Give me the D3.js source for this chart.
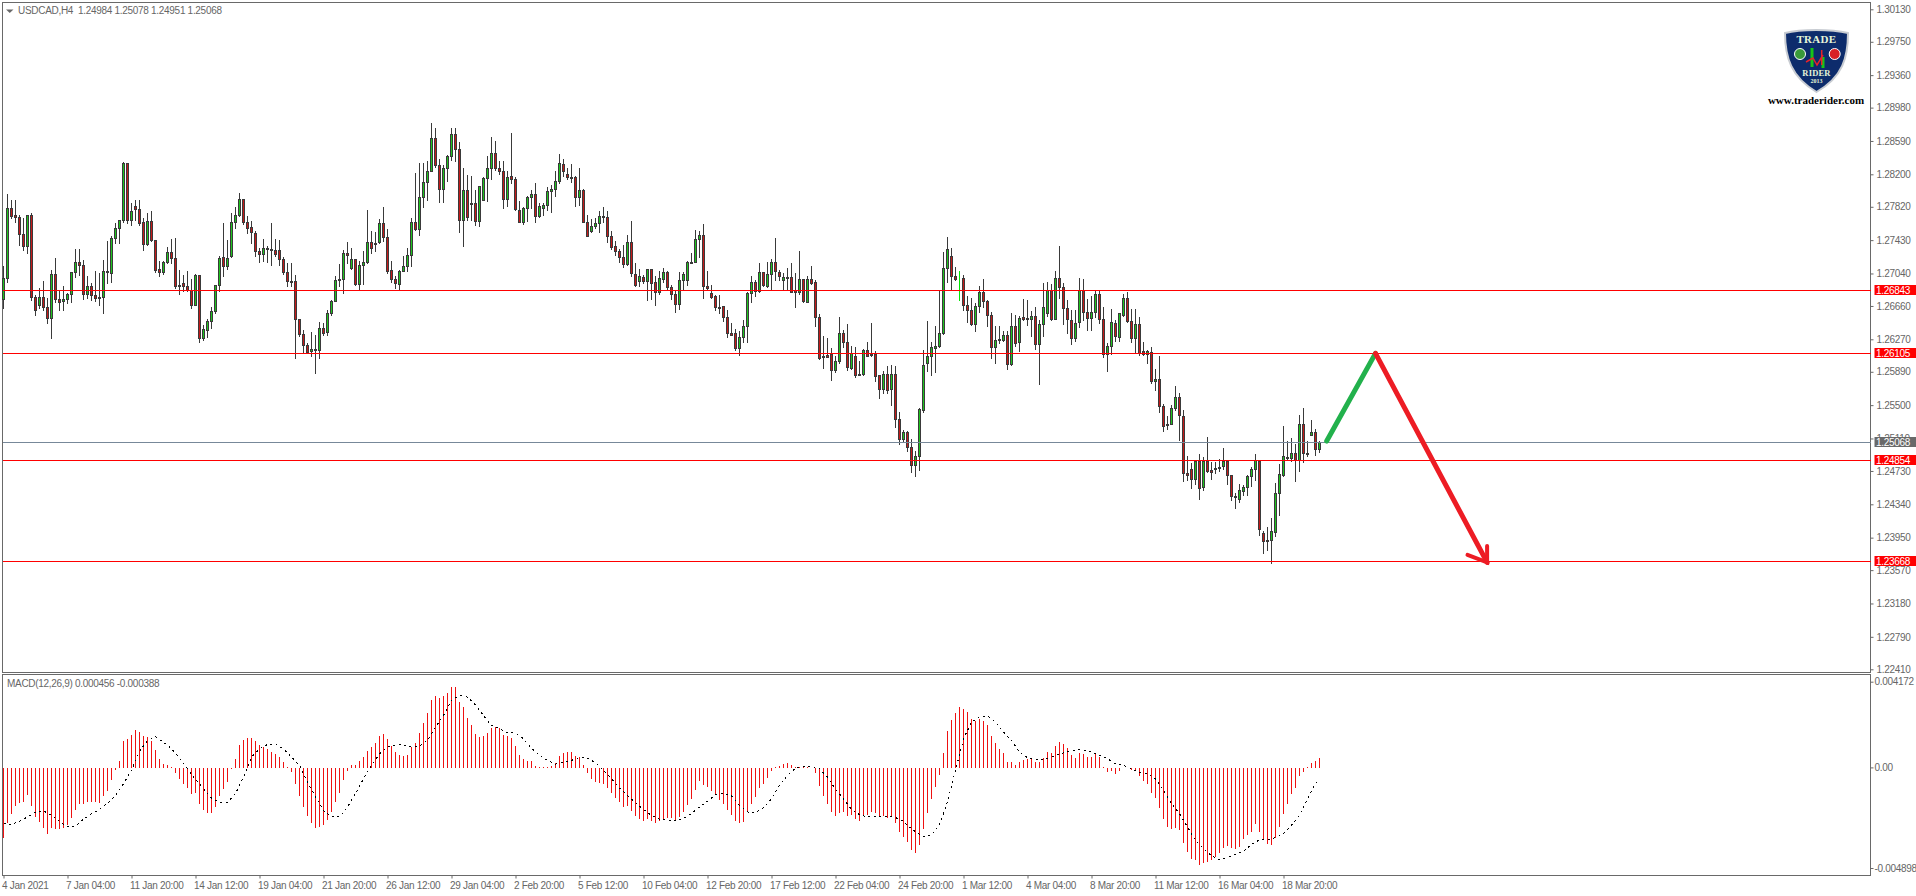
<!DOCTYPE html>
<html>
<head>
<meta charset="utf-8">
<title>USDCAD,H4</title>
<script src="https://cdn.jsdelivr.net/npm/d3@7"></script>
<style>
  html, body { margin: 0; padding: 0; background: #fff; overflow: hidden; }
  text { font-family: "Liberation Sans", sans-serif; font-size: 10px; letter-spacing: -0.3px; fill: #666; }
</style>
</head>
<body>
<div id="chart"></div>
<script>
// USDCAD H4 candles
var opens = [
1.26737,1.26982,1.27801,1.27720,1.27696,1.27497,1.27353,1.27720,1.26760,1.26663,
1.26760,1.26643,1.26511,1.27029,1.26737,1.26709,1.26737,1.26795,1.27053,1.27170,
1.27135,1.26791,1.26889,1.26784,1.26760,1.26760,1.27068,1.27037,1.27450,1.27567,
1.27661,1.28328,1.27661,1.27825,1.27790,1.27638,1.27376,1.27649,1.27427,1.27088,
1.27049,1.27170,1.27287,1.27216,1.26904,1.26924,1.26889,1.26842,1.26663,1.27018,
1.26277,1.26374,1.26479,1.26596,1.26901,1.27228,1.27119,1.27244,1.27638,1.27720,
1.27907,1.27638,1.27575,1.27509,1.27298,1.27259,1.27333,1.27322,1.27310,1.27310,
1.27205,1.27053,1.26951,1.26943,1.26503,1.26327,1.26199,1.26124,1.26156,1.26136,
1.26397,1.26347,1.26573,1.26709,1.26971,1.26971,1.27275,1.27096,1.27205,1.26912,
1.27135,1.27170,1.27404,1.27396,1.27404,1.27626,1.27462,1.27076,1.26971,1.26908,
1.27064,1.27123,1.27252,1.27638,1.27556,1.27930,1.28106,1.28234,1.28620,1.28301,
1.28020,1.28269,1.28406,1.28663,1.28492,1.27657,1.28008,1.27860,1.27860,1.27645,
1.27891,1.28152,1.28266,1.28445,1.28269,1.28234,1.27903,1.28176,1.28141,1.27778,
1.27634,1.27801,1.27930,1.27965,1.27704,1.27801,1.27833,1.28000,1.28024,1.28117,
1.28316,1.28199,1.28168,1.28164,1.27926,1.28012,1.27638,1.27528,1.27587,1.27622,
1.27708,1.27696,1.27474,1.27357,1.27302,1.27228,1.27150,1.27404,1.27029,1.26943,
1.26994,1.26943,1.27088,1.26936,1.26815,1.26967,1.27053,1.26873,1.26791,1.26674,
1.26959,1.26959,1.27174,1.27170,1.27439,1.27486,1.26889,1.26807,1.26772,1.26647,
1.26655,1.26526,1.26339,1.26339,1.26160,1.26288,1.26417,1.26803,1.26936,1.26834,
1.27053,1.26893,1.27029,1.27170,1.27053,1.26955,1.26998,1.26994,1.26838,1.26815,
1.26971,1.26706,1.26971,1.26936,1.26526,1.26070,1.26078,1.26097,1.25902,1.26007,
1.26339,1.26234,1.25933,1.26070,1.25863,1.25863,1.26136,1.26093,1.26089,1.25848,
1.25680,1.25855,1.25684,1.25855,1.25333,1.25103,1.25181,1.25001,1.24791,1.24896,
1.25434,1.25984,1.26070,1.26160,1.26183,1.26335,1.27096,1.27240,1.27002,1.26983,
1.26982,1.26667,1.26608,1.26444,1.26651,1.26819,1.26713,1.26550,1.26171,1.26273,
1.26261,1.26316,1.25976,1.26421,1.26234,1.26526,1.26514,1.26503,1.26538,1.26210,
1.26444,1.26573,1.26838,1.26507,1.26982,1.26873,1.26631,1.26491,1.26277,1.26468,
1.26838,1.26581,1.26511,1.26581,1.26795,1.26503,1.26093,1.26187,1.26456,1.26292,
1.26553,1.26748,1.26479,1.26277,1.26444,1.26128,1.26097,1.26113,1.25773,1.25801,
1.25485,1.25274,1.25274,1.25461,1.25590,1.25368,1.24701,1.24748,1.24627,1.24845,
1.24533,1.24845,1.24736,1.24763,1.24756,1.24779,1.24841,1.24678,1.24416,1.24397,
1.24494,1.24533,1.24662,1.24744,1.24845,1.23999,1.23917,1.23917,1.24011,1.24467,
1.24681,1.24873,1.24873,1.24935,1.24853,1.25274,1.24939,1.25146,1.25181,1.24984
];
var highs = [
1.27127,1.27969,1.27899,1.27899,1.27723,1.27684,1.27720,1.27743,1.26787,1.26865,
1.26951,1.26748,1.27076,1.27220,1.26846,1.26885,1.26807,1.27053,1.27326,1.27326,
1.27197,1.27010,1.26924,1.27068,1.27041,1.27197,1.27419,1.27470,1.27626,1.27665,
1.28340,1.28328,1.27860,1.27895,1.27895,1.27684,1.27743,1.27770,1.27431,1.27177,
1.27177,1.27341,1.27443,1.27454,1.27072,1.27021,1.27060,1.26971,1.27029,1.27021,
1.26436,1.26507,1.26643,1.26901,1.27244,1.27626,1.27431,1.27743,1.27813,1.27977,
1.27907,1.27704,1.27649,1.27528,1.27333,1.27443,1.27353,1.27626,1.27439,1.27431,
1.27224,1.27158,1.27158,1.27018,1.26503,1.26370,1.26222,1.26355,1.26316,1.26472,
1.26456,1.26604,1.26729,1.27002,1.27146,1.27314,1.27400,1.27333,1.27205,1.27177,
1.27294,1.27782,1.27536,1.27517,1.27677,1.27813,1.27556,1.27177,1.27002,1.27080,
1.27236,1.27337,1.27684,1.28215,1.28328,1.28328,1.28347,1.28800,1.28737,1.28375,
1.28301,1.28425,1.28730,1.28730,1.28570,1.28269,1.28188,1.28172,1.28016,1.28055,
1.28164,1.28414,1.28636,1.28578,1.28344,1.28344,1.28227,1.28683,1.28164,1.27876,
1.27813,1.27938,1.28016,1.28094,1.27860,1.27860,1.28047,1.28074,1.28234,1.28437,
1.28375,1.28269,1.28320,1.28172,1.28269,1.28024,1.27723,1.27673,1.27681,1.27762,
1.27817,1.27770,1.27536,1.27411,1.27318,1.27369,1.27489,1.27653,1.27158,1.27092,
1.27021,1.27088,1.27088,1.27002,1.27060,1.27099,1.27068,1.26904,1.26846,1.27053,
1.27049,1.27181,1.27275,1.27548,1.27528,1.27614,1.27068,1.26901,1.26787,1.26780,
1.26659,1.26604,1.26456,1.26386,1.26358,1.26495,1.26819,1.27010,1.26963,1.27158,
1.27053,1.27170,1.27209,1.27454,1.27080,1.27041,1.27099,1.27158,1.27041,1.27302,
1.26971,1.27010,1.27127,1.26959,1.26561,1.26308,1.26284,1.26167,1.26066,1.26530,
1.26378,1.26448,1.26191,1.26179,1.26007,1.26152,1.26238,1.26460,1.26128,1.25848,
1.25898,1.25949,1.25965,1.25949,1.25411,1.25208,1.25196,1.25099,1.24954,1.25465,
1.26136,1.26483,1.26234,1.26425,1.26838,1.27287,1.27466,1.27337,1.27115,1.27068,
1.27021,1.26776,1.26748,1.26690,1.26885,1.26971,1.26729,1.26581,1.26425,1.26425,
1.26362,1.26358,1.26573,1.26553,1.26534,1.26737,1.26729,1.26600,1.26643,1.26487,
1.26924,1.26940,1.26916,1.27060,1.27361,1.26924,1.26729,1.26612,1.26612,1.26982,
1.26975,1.26741,1.26776,1.26838,1.26838,1.26643,1.26222,1.26620,1.26495,1.26573,
1.26791,1.26823,1.26620,1.26620,1.26526,1.26230,1.26136,1.26179,1.25922,1.26074,
1.25512,1.25364,1.25497,1.25723,1.25641,1.25438,1.24904,1.24822,1.24845,1.24927,
1.24888,1.25126,1.24834,1.24830,1.24869,1.24993,1.24849,1.24681,1.24467,1.24576,
1.24561,1.24681,1.24771,1.24927,1.24849,1.24026,1.24073,1.24174,1.24584,1.24810,
1.25255,1.25071,1.25110,1.25044,1.25383,1.25465,1.25079,1.25321,1.25216,1.25078
];
var lows = [
1.26631,1.26932,1.27681,1.27634,1.27372,1.27306,1.27275,1.26721,1.26546,1.26628,
1.26612,1.26452,1.26277,1.26698,1.26604,1.26604,1.26690,1.26698,1.26994,1.27018,
1.26741,1.26745,1.26729,1.26709,1.26667,1.26569,1.26924,1.26932,1.27392,1.27392,
1.27638,1.27626,1.27606,1.27665,1.27599,1.27306,1.27372,1.27411,1.27057,1.27010,
1.27025,1.27158,1.27158,1.26865,1.26791,1.26826,1.26826,1.26635,1.26663,1.26230,
1.26253,1.26292,1.26397,1.26573,1.26826,1.27010,1.27088,1.27228,1.27564,1.27704,
1.27618,1.27509,1.27392,1.27236,1.27166,1.27177,1.27174,1.27131,1.27244,1.27138,
1.27033,1.26885,1.26885,1.26043,1.26300,1.26113,1.26105,1.26074,1.25871,1.26043,
1.26319,1.26316,1.26553,1.26709,1.26885,1.26807,1.27158,1.27088,1.26904,1.26846,
1.26916,1.27158,1.27275,1.27294,1.27392,1.27411,1.27041,1.26932,1.26865,1.26846,
1.27060,1.27060,1.27119,1.27548,1.27482,1.27809,1.27899,1.28230,1.28277,1.27868,
1.27872,1.28113,1.28367,1.28347,1.27517,1.27353,1.27665,1.27657,1.27606,1.27595,
1.27891,1.27879,1.28145,1.28250,1.28203,1.27798,1.27829,1.28094,1.27774,1.27634,
1.27610,1.27645,1.27805,1.27634,1.27692,1.27723,1.27774,1.27751,1.27938,1.28094,
1.28172,1.28141,1.28102,1.27829,1.27840,1.27634,1.27470,1.27517,1.27571,1.27525,
1.27634,1.27400,1.27326,1.27255,1.27170,1.27107,1.27138,1.27002,1.26885,1.26893,
1.26924,1.26729,1.26737,1.26663,1.26799,1.26932,1.26858,1.26741,1.26581,1.26624,
1.26854,1.26904,1.27162,1.27166,1.27224,1.26745,1.26838,1.26752,1.26604,1.26573,
1.26475,1.26288,1.26316,1.26144,1.26078,1.26230,1.26230,1.26698,1.26768,1.26823,
1.26885,1.26877,1.26858,1.26963,1.26963,1.26846,1.26858,1.26815,1.26639,1.26799,
1.26698,1.26698,1.26916,1.26417,1.26035,1.25929,1.26054,1.25785,1.25887,1.25984,
1.26171,1.25910,1.25918,1.25824,1.25848,1.25851,1.26066,1.26074,1.25773,1.25575,
1.25637,1.25637,1.25493,1.25239,1.25040,1.25079,1.24954,1.24713,1.24662,1.24732,
1.25419,1.25890,1.25851,1.25887,1.26171,1.26323,1.26932,1.26846,1.26963,1.26729,
1.26612,1.26464,1.26433,1.26358,1.26581,1.26643,1.26417,1.26043,1.25984,1.26222,
1.26241,1.25914,1.25968,1.26191,1.26124,1.26487,1.26436,1.26300,1.26152,1.25738,
1.26308,1.26534,1.26495,1.26503,1.26745,1.26440,1.26339,1.26206,1.26241,1.26405,
1.26487,1.26370,1.26378,1.26526,1.26456,1.26054,1.25890,1.26093,1.26249,1.26241,
1.26542,1.26464,1.26234,1.26105,1.26085,1.26085,1.25984,1.25754,1.25676,1.25411,
1.25188,1.25216,1.25270,1.25442,1.25083,1.24603,1.24623,1.24529,1.24576,1.24393,
1.24506,1.24717,1.24631,1.24701,1.24720,1.24752,1.24576,1.24381,1.24288,1.24358,
1.24447,1.24447,1.24545,1.24623,1.23979,1.23761,1.23804,1.23648,1.23968,1.24206,
1.24670,1.24849,1.24837,1.24603,1.24728,1.24830,1.24896,1.25142,1.24908,1.24951
];
var closes = [
1.26982,1.27801,1.27704,1.27692,1.27497,1.27353,1.27720,1.26760,1.26604,1.26760,
1.26639,1.26511,1.27029,1.26733,1.26702,1.26737,1.26795,1.27053,1.27170,1.27135,
1.26791,1.26889,1.26784,1.26745,1.26745,1.27064,1.27060,1.27450,1.27567,1.27661,
1.28328,1.27661,1.27766,1.27790,1.27622,1.27376,1.27649,1.27427,1.27072,1.27049,
1.27170,1.27287,1.27213,1.26893,1.26897,1.26885,1.26842,1.26663,1.27018,1.26277,
1.26386,1.26479,1.26596,1.26901,1.27216,1.27119,1.27216,1.27638,1.27720,1.27907,
1.27638,1.27564,1.27525,1.27294,1.27259,1.27333,1.27318,1.27306,1.27267,1.27205,
1.27049,1.26943,1.26943,1.26503,1.26323,1.26199,1.26121,1.26152,1.26136,1.26397,
1.26339,1.26573,1.26717,1.26963,1.26955,1.27275,1.27252,1.27205,1.26912,1.27135,
1.27170,1.27404,1.27333,1.27388,1.27626,1.27462,1.27068,1.26971,1.26920,1.27064,
1.27123,1.27252,1.27638,1.27560,1.27930,1.28106,1.28230,1.28620,1.28301,1.28020,
1.28269,1.28414,1.28663,1.28492,1.27657,1.28008,1.27696,1.27844,1.27645,1.28055,
1.28152,1.28269,1.28445,1.28262,1.28230,1.27903,1.28164,1.28137,1.27786,1.27634,
1.27801,1.27930,1.27965,1.27704,1.27825,1.27837,1.28000,1.28024,1.28117,1.28328,
1.28234,1.28160,1.28160,1.27930,1.28012,1.27634,1.27470,1.27591,1.27626,1.27708,
1.27696,1.27470,1.27341,1.27294,1.27224,1.27150,1.27404,1.27037,1.26897,1.27002,
1.26943,1.27088,1.26920,1.26819,1.26982,1.27053,1.26873,1.26791,1.26674,1.26959,
1.27029,1.27170,1.27166,1.27439,1.27486,1.26885,1.26869,1.26764,1.26639,1.26639,
1.26522,1.26335,1.26319,1.26160,1.26292,1.26421,1.26807,1.26936,1.26834,1.27053,
1.26897,1.27029,1.27170,1.27060,1.27002,1.26998,1.26990,1.26823,1.26815,1.26971,
1.26717,1.26971,1.26928,1.26522,1.26050,1.26058,1.26062,1.25902,1.26011,1.26339,
1.26230,1.25937,1.26101,1.25851,1.25855,1.26136,1.26074,1.26085,1.25832,1.25684,
1.25855,1.25668,1.25855,1.25333,1.25095,1.25181,1.25001,1.24791,1.24900,1.25450,
1.25965,1.26070,1.26175,1.26187,1.26339,1.27099,1.27322,1.27002,1.26975,1.26983,
1.26663,1.26604,1.26444,1.26651,1.26819,1.26709,1.26546,1.26171,1.26257,1.26265,
1.26316,1.25976,1.26421,1.26218,1.26514,1.26507,1.26503,1.26538,1.26210,1.26444,
1.26643,1.26838,1.26507,1.26982,1.26873,1.26631,1.26503,1.26277,1.26456,1.26838,
1.26585,1.26511,1.26581,1.26795,1.26499,1.26093,1.26187,1.26468,1.26304,1.26573,
1.26748,1.26475,1.26277,1.26444,1.26109,1.26093,1.26128,1.25773,1.25801,1.25481,
1.25247,1.25259,1.25461,1.25590,1.25376,1.24697,1.24681,1.24627,1.24845,1.24522,
1.24845,1.24724,1.24717,1.24756,1.24775,1.24841,1.24674,1.24428,1.24436,1.24502,
1.24537,1.24666,1.24748,1.24849,1.24046,1.23901,1.23909,1.24018,1.24467,1.24689,
1.24900,1.24888,1.24935,1.24853,1.25274,1.24931,1.24931,1.25181,1.24978,1.25068
];

// MACD histogram, one value per candle
var macdHist = [
-.003434,-.002705,-.002284,-.001879,-.001733,-.001701,-.001361,-.001879,-.002430,-.002673,
-.002965,-.003256,-.002965,-.002997,-.002997,-.002965,-.002819,-.002462,-.002090,-.001766,
-.001798,-.001701,-.001701,-.001701,-.001733,-.001393,-.001166,-.000632,-.000146,.000292,
.001264,.001393,.001588,.001798,.001733,.001507,.001490,.001296,.000826,.000421,
.000178,.000130,.000016,-.000275,-.000583,-.000826,-.001021,-.001312,-.001231,-.001782,
-.002090,-.002219,-.002219,-.001928,-.001393,-.001069,-.000729,-.000097,.000421,.001069,
.001312,.001409,.001409,.001264,.001069,.000988,.000875,.000729,.000632,.000486,
.000259,.000016,-.000227,-.000826,-.001393,-.001944,-.002381,-.002722,-.002965,-.002884,
-.002819,-.002560,-.002187,-.001701,-.001264,-.000632,-.000194,.000097,.000097,.000292,
.000486,.000778,.000972,.001166,.001507,.001604,.001361,.001037,.000729,.000583,
.000535,.000583,.000972,.001166,.001652,.002138,.002624,.003305,.003499,.003402,
.003499,.003645,.003937,.003937,.003208,.002916,.002381,.002041,.001604,.001458,
.001507,.001652,.001895,.001944,.001895,.001555,.001507,.001409,.001021,.000583,
.000389,.000292,.000292,.000049,.000016,.000016,.000016,.000049,.000194,.000535,
.000680,.000729,.000729,.000567,.000486,.000097,-.000292,-.000583,-.000729,-.000778,
-.000826,-.001021,-.001264,-.001507,-.001701,-.001944,-.001895,-.002138,-.002381,-.002527,
-.002624,-.002527,-.002624,-.002722,-.002624,-.002527,-.002479,-.002479,-.002624,-.002430,
-.002187,-.001847,-.001555,-.001118,-.000680,-.000875,-.000972,-.001166,-.001361,-.001604,
-.001798,-.002090,-.002333,-.002624,-.002722,-.002673,-.002138,-.001798,-.001458,-.001021,
-.000826,-.000535,-.000194,.000000,.000065,.000146,.000194,.000097,.000010,.000010,
.000010,.000030,-.000032,-.000292,-.000923,-.001409,-.001798,-.002187,-.002381,-.002236,
-.002187,-.002381,-.002333,-.002527,-.002624,-.002381,-.002333,-.002187,-.002236,-.002381,
-.002381,-.002479,-.002381,-.002722,-.003159,-.003402,-.003645,-.004034,-.004180,-.003791,
-.003013,-.002236,-.001555,-.000972,-.000389,.000680,.001750,.002284,.002624,.002916,
.002819,.002673,.002333,.002236,.002333,.002236,.002041,.001507,.001166,.000875,
.000680,.000243,.000243,.000097,.000243,.000340,.000389,.000437,.000243,.000243,
.000437,.000729,.000680,.001021,.001215,.001118,.000923,.000583,.000437,.000680,
.000632,.000486,.000486,.000632,.000486,.000010,-.000243,-.000194,-.000340,-.000194,
-.000049,-.000010,-.000146,-.000146,-.000437,-.000680,-.000826,-.001264,-.001507,-.001993,
-.002527,-.002916,-.003013,-.002965,-.003062,-.003694,-.004131,-.004471,-.004520,-.004763,
-.004666,-.004617,-.004520,-.004374,-.004180,-.003937,-.003839,-.003937,-.003985,-.003888,
-.003499,-.003305,-.003159,-.002770,-.003159,-.003499,-.003742,-.003791,-.003451,-.002916,
-.002284,-.001798,-.001312,-.001021,-.000437,-.000243,.000030,.000194,.000292,.000456
];

// MACD signal line, read every second candle
var macdSignal = [
-.002738,-.002786,-.002624,-.002414,-.002171,-.002122,-.002333,-.002624,-.002900,-.002867,
-.002527,-.002252,-.002041,-.001750,-.001361,-.000794,-.000146,.000778,.001312,.001490,
.001231,.000907,.000454,-.000065,-.000583,-.001037,-.001490,-.001717,-.001685,-.001280,
-.000470,.000502,.000907,.001118,.001134,.000907,.000502,.000097,-.000713,-.001442,
-.002090,-.002414,-.002414,-.001928,-.001280,-.000551,.000097,.000664,.000988,.001102,
.001085,.001004,.001037,.001312,.001960,.002527,
.003256,.003499,.003418,.003046,.002527,.002041,.001879,.001685,.001669,.001393,
.000940,.000583,.000340,.000162,.000243,.000340,.000486,.000454,.000227,-.000146,
-.000551,-.001004,-.001361,-.001717,-.002057,-.002333,-.002527,-.002576,-.002608,-.002495,
-.002252,-.001928,-.001652,-.001328,-.001280,-.001393,-.001847,-.002171,-.002203,-.001960,
-.001523,-.000875,-.000389,-.000032,.000065,.000065,-.000065,-.000470,-.001069,-.001523,
-.002057,-.002300,-.002414,-.002414,-.002414,
-.002414,-.002495,-.002819,-.003143,-.003370,-.003305,-.002770,-.001685,-.000146,.001393,
.002203,.002462,.002511,.002203,.001717,.001312,.000745,.000470,.000356,.000389,
.000502,.000648,.000778,.000842,.000859,.000745,.000583,.000421,.000178,.000097,
-.000065,-.000259,-.000308,-.000551,-.001118,-.001766,-.002252,-.002900,-.003548,-.003953,
-.004309,-.004487,-.004374,-.004244,-.004082,-.003742,-.003532,-.003515,-.003418,-.003224,
-.002819,-.002333,-.001523,-.000794,-.000551
];

var priceTicks = [1.30130,1.29750,1.29360,1.28980,1.28590,1.28200,1.27820,1.27430,1.27040,1.26660,1.26270,
  1.25890,1.25500,1.25110,1.24730,1.24340,1.23950,1.23570,1.23180,1.22790,1.22410];
var macdTicks = [0.004172, 0, -0.004898];
var macdTickLabels = ["0.004172", "0.00", "-0.004898"];
var dateLabels = ["4 Jan 2021","7 Jan 04:00","11 Jan 20:00","14 Jan 12:00","19 Jan 04:00","21 Jan 20:00","26 Jan 12:00",
  "29 Jan 04:00","2 Feb 20:00","5 Feb 12:00","10 Feb 04:00","12 Feb 20:00","17 Feb 12:00","22 Feb 04:00",
  "24 Feb 20:00","1 Mar 12:00","4 Mar 04:00","8 Mar 20:00","11 Mar 12:00","16 Mar 04:00","18 Mar 20:00"];

// horizontal levels
var redLevels = [1.26843, 1.26105, 1.24854, 1.23668];
var bidLevel = 1.25068;

// hand drawn projection, [bar index, price]
var greenLeg = [[330.8, 1.2508], [343, 1.26105]];
var redLeg = [[343, 1.26105], [370.9, 1.2366]];
var redBarbs = [[366, 1.23748], [370.9, 1.2366], [370.9, 1.23852]];

var svgWidth = 1916;
var svgHeight = 896;

// panel frames
var main = {left: 2.5, right: 1870.5, top: 2.5, bottom: 672.5};
var sub = {left: 2.5, right: 1870.5, top: 674.5, bottom: 875.5};

var svg = d3.select("#chart").append("svg")
  .attr("width", svgWidth)
  .attr("height", svgHeight)
  .style("display", "block");

var xScale = d3.scaleLinear().domain([0, 329]).range([3.5, 1319.5]);
var yPrice = d3.scaleLinear().domain([1.22410, 1.30130]).range([669.3, 9.3]);
var yMacd = d3.scaleLinear().domain([-0.004898, 0.004172]).range([868, 681.7]);

// snap to the pixel grid so 1px lines stay sharp
function snap(v) { return Math.round(v - 0.5) + 0.5; }

// frames
[main, sub].forEach(function(p) {
  svg.append("rect")
    .attr("x", p.left).attr("y", p.top)
    .attr("width", p.right - p.left).attr("height", p.bottom - p.top)
    .attr("fill", "none").attr("stroke", "#696969")
    .attr("shape-rendering", "crispEdges");
});

// candles
var candles = svg.append("g").attr("shape-rendering", "crispEdges")
  .selectAll("g").data(opens).enter().append("g");

candles.append("line")
  .attr("x1", (d, i) => xScale(i))
  .attr("x2", (d, i) => xScale(i))
  .attr("y1", (d, i) => snap(yPrice(highs[i])) - 0.5)
  .attr("y2", (d, i) => snap(yPrice(lows[i])) + 0.5)
  .attr("stroke", (d, i) => opens[i] === closes[i] ? "#00e600" : "#3a3a3a");

candles.append("rect")
  .attr("x", (d, i) => xScale(i) - 1)
  .attr("width", 2)
  .attr("y", (d, i) => snap(yPrice(Math.max(opens[i], closes[i]))))
  .attr("height", (d, i) => Math.max(1, snap(yPrice(Math.min(opens[i], closes[i]))) - snap(yPrice(Math.max(opens[i], closes[i])))))
  .attr("fill", (d, i) => closes[i] >= opens[i] ? "#1fc41f" : "#c41a1a")
  .attr("stroke", (d, i) => opens[i] === closes[i] ? "#00e600" : "#3a3a3a");

// the flat candle is only a small cross
candles.filter((d, i) => opens[i] === closes[i]).select("rect")
  .attr("height", 0).attr("y", (d) => snap(yPrice(d)));

// levels
svg.append("g").attr("shape-rendering", "crispEdges")
  .selectAll("line").data(redLevels).enter().append("line")
  .attr("x1", main.left).attr("x2", main.right)
  .attr("y1", d => snap(yPrice(d))).attr("y2", d => snap(yPrice(d)))
  .attr("stroke", "#ff0000");

svg.append("line")
  .attr("shape-rendering", "crispEdges")
  .attr("x1", main.left).attr("x2", main.right)
  .attr("y1", snap(yPrice(bidLevel))).attr("y2", snap(yPrice(bidLevel)))
  .attr("stroke", "#778899");

// projection arrows
var arrowLine = d3.line().x(d => xScale(d[0])).y(d => yPrice(d[1]));

svg.append("path").attr("d", arrowLine(greenLeg))
  .attr("fill", "none").attr("stroke", "#22b14c").attr("stroke-width", 5).attr("stroke-linecap", "round");
svg.append("path").attr("d", arrowLine(redLeg))
  .attr("fill", "none").attr("stroke", "#ed1c24").attr("stroke-width", 5).attr("stroke-linecap", "round");
svg.append("path").attr("d", arrowLine(redBarbs))
  .attr("fill", "none").attr("stroke", "#ed1c24").attr("stroke-width", 4).attr("stroke-linecap", "round");

// macd histogram
svg.append("g").attr("shape-rendering", "crispEdges")
  .selectAll("line").data(macdHist).enter().append("line")
  .attr("x1", (d, i) => xScale(i)).attr("x2", (d, i) => xScale(i))
  .attr("y1", yMacd(0) + 1)
  .attr("y2", d => yMacd(d))
  .attr("stroke", "#ee1111");

// macd signal, dotted
var signalLine = d3.line()
  .x((d, i) => xScale(Math.min(i * 2, 329)))
  .y(d => yMacd(d));

svg.append("path").attr("d", signalLine(macdSignal))
  .attr("fill", "none").attr("stroke", "#000")
  .attr("stroke-dasharray", "2 3.5").attr("shape-rendering", "crispEdges");

// right axes
var priceAxis = d3.axisRight(yPrice).tickValues(priceTicks).tickFormat(d3.format(".5f")).tickSize(3).tickPadding(3);
svg.append("g").attr("transform", `translate(${main.right}, 0)`).call(priceAxis)
  .call(g => g.select(".domain").remove())
  .call(g => g.selectAll("line").attr("stroke", "#696969"));

var macdAxis = d3.axisRight(yMacd).tickValues(macdTicks).tickFormat((d, i) => macdTickLabels[i]).tickSize(3).tickPadding(1);
svg.append("g").attr("transform", `translate(${sub.right}, 0)`).call(macdAxis)
  .call(g => g.select(".domain").remove())
  .call(g => g.selectAll("line").attr("stroke", "#696969"));

// time axis
var timeAxis = d3.axisBottom(xScale).tickValues(d3.range(0, 321, 16)).tickFormat((d, i) => dateLabels[i]).tickSize(3).tickPadding(3);
svg.append("g").attr("transform", `translate(0, ${sub.bottom})`).call(timeAxis)
  .call(g => g.select(".domain").remove())
  .call(g => g.selectAll("line").attr("stroke", "#696969"))
  .call(g => g.selectAll("text").attr("text-anchor", "start").attr("dx", -2));

svg.selectAll(".tick text").attr("font-family", null).attr("font-size", null).attr("fill", null);
svg.selectAll("g").filter(function() { return this.getAttribute("font-family"); })
  .attr("font-family", null).attr("font-size", null);

// tags on the price axis
var tagData = [redLevels[0], redLevels[1], bidLevel, redLevels[2], redLevels[3]];
var tags = svg.append("g").selectAll("g").data(tagData).enter().append("g")
  .attr("transform", d => `translate(${main.right + 4}, ${snap(yPrice(d))})`);

tags.append("rect")
  .attr("x", 0).attr("y", -5.5).attr("width", 42).attr("height", 10)
  .attr("fill", d => d === bidLevel ? "#696969" : "#ff0000");

tags.append("text")
  .attr("x", 1.5).attr("y", 3.5)
  .style("fill", "#fff")
  .text(d => d3.format(".5f")(d));

// header texts
svg.append("path").attr("d", "M6 9.5 L13.5 9.5 L9.75 13 Z").attr("fill", "#696969");
svg.append("text").attr("x", 18).attr("y", 14).attr("xml:space", "preserve").style("white-space", "pre")
  .text("USDCAD,H4  1.24984 1.25078 1.24951 1.25068");
svg.append("text").attr("x", 7).attr("y", 687)
  .text("MACD(12,26,9) 0.000456 -0.000388");

// logo
var logo = svg.append("g").attr("transform", "translate(1785, 27)");
logo.append("path")
  .attr("d", "M0 6 C16 2 46 2 63 6 C63 30 58 50 31.5 65 C6 50 0 30 0 6 Z")
  .attr("fill", "#0d2c6c").attr("stroke", "#c8ccd2").attr("stroke-width", 2);
logo.append("text").attr("x", 31.5).attr("y", 15.5).attr("text-anchor", "middle")
  .style("font-family", "Liberation Serif").style("font-weight", "bold").style("font-size", "11px").style("letter-spacing", "0.3px").style("fill", "#e6f5d8")
  .text("TRADE");
logo.append("text").attr("x", 31.5).attr("y", 49).attr("text-anchor", "middle")
  .style("font-family", "Liberation Serif").style("font-weight", "bold").style("font-size", "8.5px").style("letter-spacing", "0.2px").style("fill", "#e6f5d8")
  .text("RIDER");
logo.append("text").attr("x", 31.5).attr("y", 55.5).attr("text-anchor", "middle")
  .style("font-family", "Liberation Serif").style("font-weight", "bold").style("font-size", "6px").style("letter-spacing", "0").style("fill", "#e6f5d8")
  .text("2013");
logo.append("circle").attr("cx", 15).attr("cy", 27).attr("r", 5.5).attr("fill", "#3a9a3a").attr("stroke", "#fff");
logo.append("circle").attr("cx", 49.7).attr("cy", 27).attr("r", 5.5).attr("fill", "#d81f26").attr("stroke", "#fff");
logo.append("path").attr("d", "M27 21 V40 M38 30 V41").attr("stroke", "#18c418").attr("stroke-width", 3);
logo.append("path").attr("d", "M21 35 L28 31 L32 38 L38 28 M36.7 23 V38").attr("stroke", "#e8222a").attr("stroke-width", 1.5).attr("fill", "none");

svg.append("text").attr("x", 1816).attr("y", 104).attr("text-anchor", "middle")
  .style("font-family", "Liberation Serif").style("font-weight", "bold").style("font-size", "11px").style("letter-spacing", "0").style("fill", "#000")
  .text("www.traderider.com");
</script>
</body>
</html>
